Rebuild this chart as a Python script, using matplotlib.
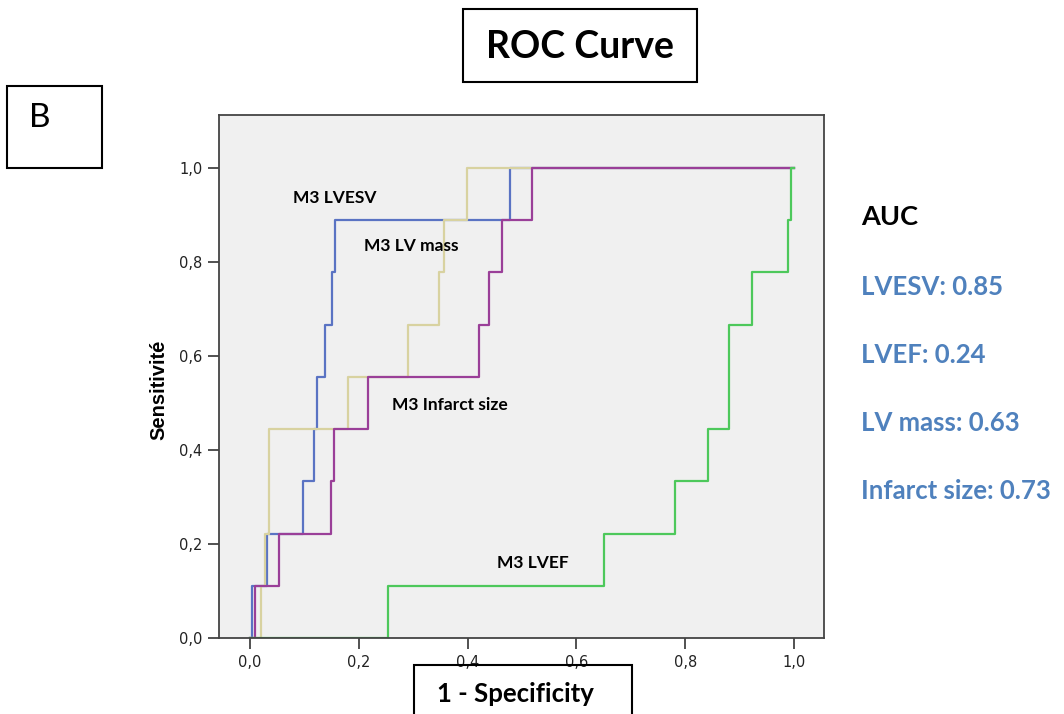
import matplotlib.pyplot as plt
from matplotlib.patches import Rectangle
from matplotlib.ticker import FuncFormatter

# ROC step corners (1 - specificity where sensitivity jumps, sensitivity after the jump)
lvesv_fpr = [0.0, 0.003, 0.031, 0.097, 0.117, 0.124, 0.138, 0.150, 0.157, 0.477, 1.0]
lvesv_tpr = [0.0, 0.111, 0.222, 0.333, 0.444, 0.556, 0.667, 0.778, 0.889, 1.0, 1.0]

lvmass_fpr = [0.0, 0.020, 0.027, 0.034, 0.181, 0.291, 0.347, 0.357, 0.398, 1.0]
lvmass_tpr = [0.0, 0.111, 0.222, 0.444, 0.556, 0.667, 0.778, 0.889, 1.0, 1.0]

infarct_fpr = [0.0, 0.009, 0.054, 0.148, 0.154, 0.217, 0.421, 0.440, 0.464, 0.518, 1.0]
infarct_tpr = [0.0, 0.111, 0.222, 0.333, 0.444, 0.556, 0.667, 0.778, 0.889, 1.0, 1.0]

lvef_fpr = [0.0, 0.254, 0.651, 0.781, 0.841, 0.881, 0.922, 0.988, 0.995, 1.0]
lvef_tpr = [0.0, 0.111, 0.222, 0.333, 0.444, 0.667, 0.778, 0.889, 1.0, 1.0]

auc_labels = ['LVESV: 0.85', 'LVEF: 0.24', 'LV mass: 0.63', 'Infarct size: 0.73']

W, H = 1064, 714
fig = plt.figure(figsize=(W / 100, H / 100), dpi=100)
fig.patch.set_facecolor('white')

# axes box in pixels: left 219, right 824, top 115, bottom 638
ax = fig.add_axes([219 / W, 1 - 638 / H, (824 - 219) / W, (638 - 115) / H])
ax.set_facecolor('#F0F0F0')

ax.plot(lvesv_fpr, lvesv_tpr, drawstyle='steps-post', color='#5A73C3', lw=1.6, zorder=2)
ax.plot(lvmass_fpr, lvmass_tpr, drawstyle='steps-post', color='#D8D2A0', lw=1.6, zorder=3)
ax.plot(infarct_fpr, infarct_tpr, drawstyle='steps-post', color='#9A3F98', lw=1.6, zorder=4)
ax.plot(lvef_fpr, lvef_tpr, drawstyle='steps-post', color='#4DC85B', lw=1.6, zorder=5)

ax.set_xlim(-0.057, 1.055)
ax.set_ylim(0, 1.1128)
ax.set_xticks([0, 0.2, 0.4, 0.6, 0.8, 1.0])
ax.set_yticks([0, 0.2, 0.4, 0.6, 0.8, 1.0])
comma = FuncFormatter(lambda v, p: f'{v:.1f}'.replace('.', ','))
ax.xaxis.set_major_formatter(comma)
ax.yaxis.set_major_formatter(comma)
ax.tick_params(direction='out', length=8, width=1.2, color='#333333',
               labelsize=10.5, labelcolor='#222222', pad=4)
for s in ax.spines.values():
    s.set_color('#444444')
    s.set_linewidth(1.3)
ax.spines['bottom'].set_zorder(6)

ax.set_ylabel('Sensitivité', fontsize=14.5, fontweight='bold', family='Liberation Sans')
ax.yaxis.set_label_coords(-0.084, 0.474)

lab = dict(fontsize=12.5, fontweight='bold', family='Lato', va='center', ha='left', zorder=7)
ax.text(0.079, 0.937, 'M3 LVESV', **lab)
ax.text(0.210, 0.835, 'M3 LV mass', **lab)
ax.text(0.261, 0.495, 'M3 Infarct size', **lab)
ax.text(0.454, 0.159, 'M3 LVEF', **lab)

def px(x, y):
    return x / W, 1 - y / H

def box(x0, y0, x1, y1):
    fig.add_artist(Rectangle(px(x0, y1), (x1 - x0) / W, (y1 - y0) / H,
                             transform=fig.transFigure, fill=False,
                             edgecolor='black', lw=1.5))

box(463, 9, 697, 82)
fig.text(*px(580, 47), 'ROC Curve', fontsize=27, fontweight='bold', family='Lato',
         ha='center', va='center')

box(7, 86, 102, 168)
fig.text(*px(40, 118), 'B', fontsize=24, family='Lato', ha='center', va='center')

box(414, 665, 632, 720)
fig.text(*px(515, 694), '1 - Specificity', fontsize=18.5, fontweight='bold', family='Lato',
         ha='center', va='center')

fig.text(*px(861, 217), 'AUC', fontsize=19.5, fontweight='bold', family='Lato',
         ha='left', va='center')
for i, t in enumerate(auc_labels):
    fig.text(*px(861, 287 + i * 68), t, fontsize=18.5, fontweight='bold', family='Lato',
             color='#4F81BD', ha='left', va='center')

fig.savefig('out.png', dpi=100)
